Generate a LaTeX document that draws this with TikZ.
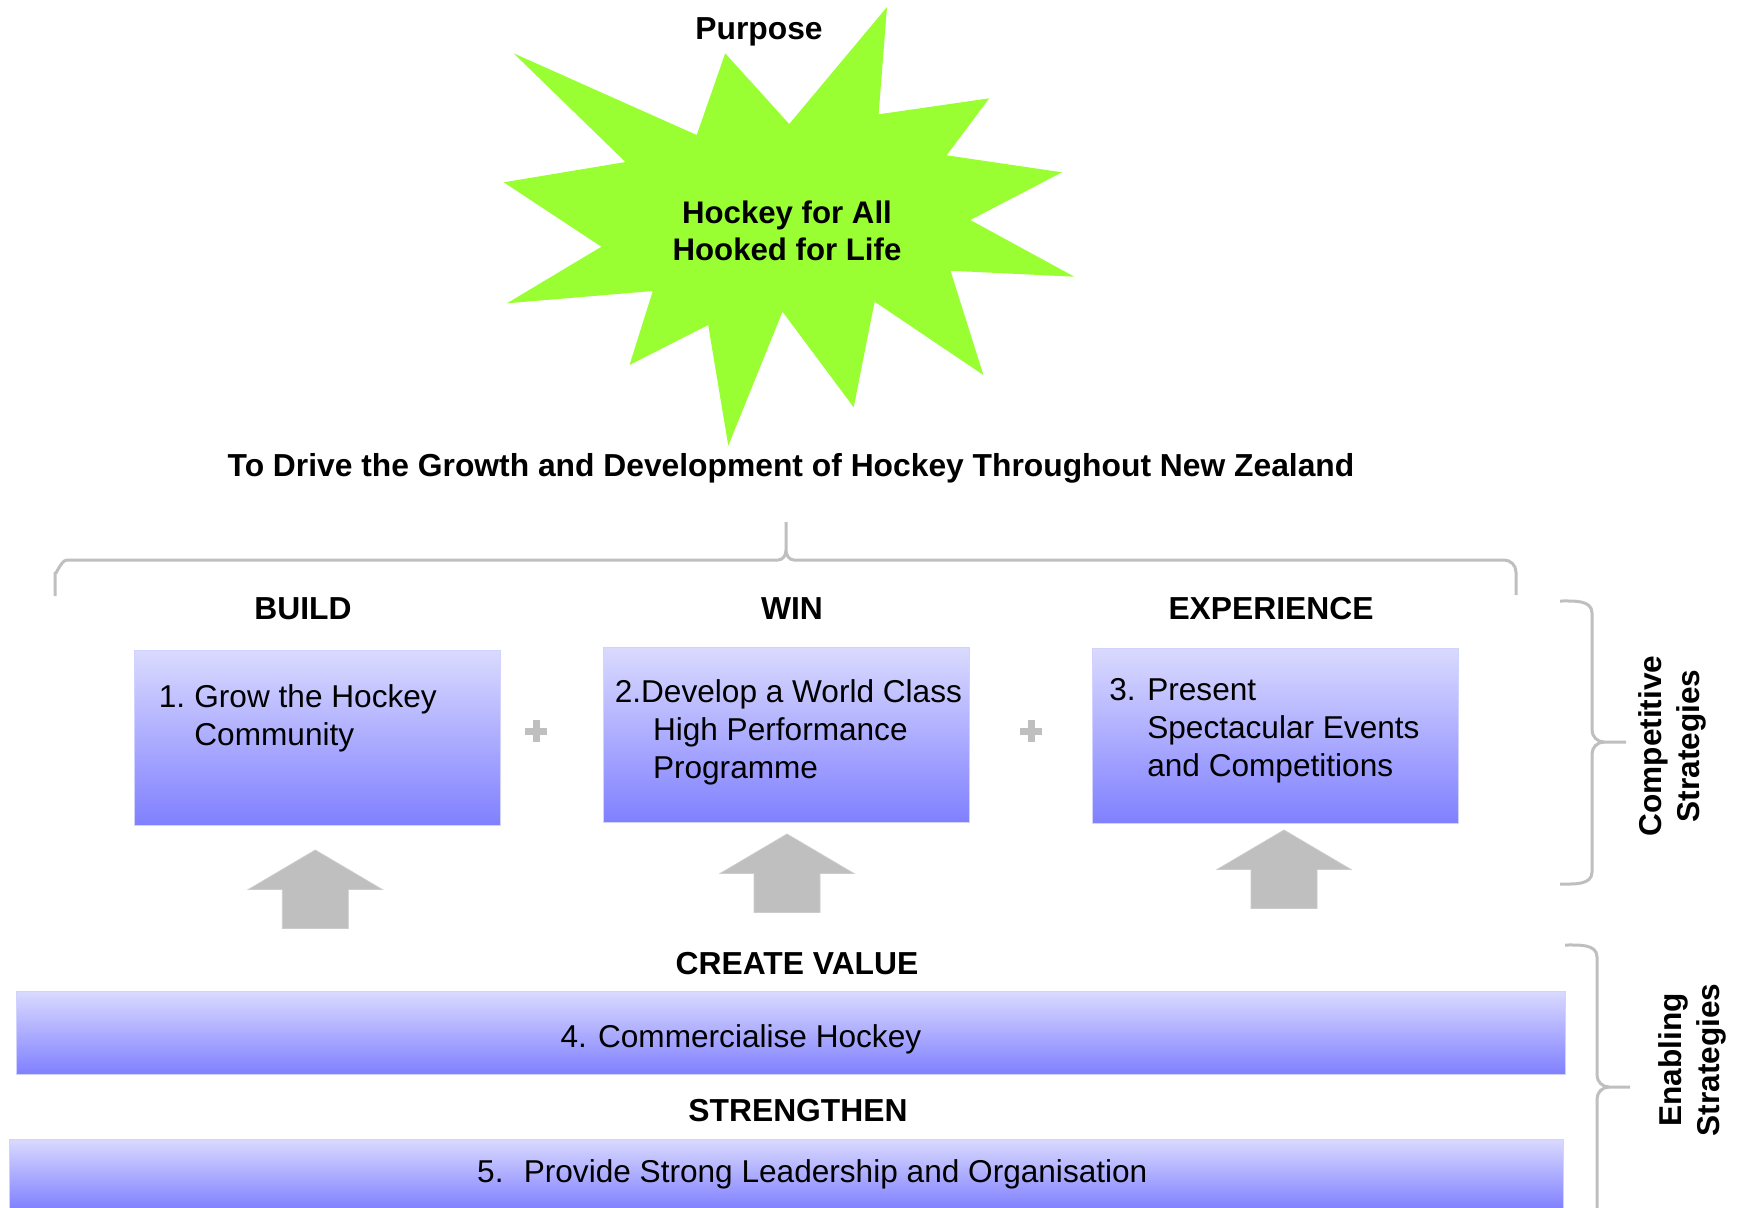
\documentclass[tikz,border=0pt]{standalone}
\usepackage{fontspec}
\setmainfont{Liberation Sans}
\definecolor{burst}{RGB}{153,255,51}
\definecolor{lineg}{RGB}{191,191,191}
\definecolor{boxtop}{RGB}{218,218,255}
\definecolor{boxbot}{RGB}{128,128,255}
\definecolor{boxedge}{RGB}{210,210,255}
\begin{document}
\begin{tikzpicture}[x=0.5pt,y=-0.5pt,
  every node/.style={inner sep=0pt, outer sep=0pt, font=\fontsize{15.8}{19}\selectfont},
  head/.style={font=\fontsize{15.9}{19}\selectfont\bfseries, anchor=base},
  label/.style={anchor=base west, align=left},
  stratbox/.style={rectangle, draw=boxedge, line width=0.5pt, top color=boxtop, bottom color=boxbot, minimum width=183pt, minimum height=87.5pt},
  stratbar/.style={rectangle, draw=boxedge, line width=0.5pt, top color=boxtop, bottom color=boxbot},
  bracket/.style={draw=lineg, line width=1.5pt},
  uparrow/.style={fill=lineg, draw=lineg!80!white, line width=0.4pt},
  plus/.style={fill=lineg},
  side/.style={font=\fontsize{15.8}{19}\selectfont\bfseries, rotate=90, align=center}]
\useasboundingbox (0,0) rectangle (1740,1207);

% purpose burst
\fill[burst] (887,7) -- (878.6,114.3) -- (989.3,98.3) -- (946.6,155.3) -- (1062,172.3)
  -- (970.3,220) -- (1074.3,276.7) -- (950.5,270.7) -- (983.4,375) -- (874.6,301.7)
  -- (853.7,407.3) -- (782.5,311.7) -- (728.3,445.7) -- (708.2,325) -- (629.5,365)
  -- (652.8,291) -- (506.9,303.3) -- (601.4,246.7) -- (503.7,182.3) -- (625.5,162)
  -- (513.6,53.3) -- (696.7,135) -- (725.2,53.3) -- (789.2,124) -- cycle;
\node[head] (purpose) at (759,39) {Purpose};
\node[font=\fontsize{15.6}{18.7}\selectfont\bfseries, align=center] (slogan) at (787,231) {Hockey for All\\Hooked for Life};
\node[head] (mission) at (791,476) {To Drive the Growth and Development of Hockey Throughout New Zealand};

% brace over the competitive strategies
\path[bracket] (55,596) -- (55,572) to[out=-90,in=180] (67,560) -- (778,560)
  to[out=0,in=-90] (786,550) -- (786,522) -- (786,550) to[out=-90,in=180] (794,560)
  -- (1504,560) to[out=0,in=90] (1516,572) -- (1516,595);

% competitive strategies
\node[head] (build) at (303,619) {BUILD};
\node[head] (win) at (792,619) {WIN};
\node[head] (exp) at (1271,619) {EXPERIENCE};

\node[stratbox] (b1) at (317,737.5) {};
\node[stratbox] (b2) at (786,735) {};
\node[stratbox] (b3) at (1275,735.5) {};

% the base anchor of a multi-line label sits on its last line
\node[label] (t1) at (158.8,745) {\makebox[17.8pt][l]{1.}Grow the Hockey\\\hspace*{17.8pt}Community};
\node[label] (t2) at (614.8,778.3) {2.Develop a World Class\\\hspace*{19.1pt}High Performance\\\hspace*{19.1pt}Programme};
\node[label] (t3) at (1109.3,776) {\makebox[19pt][l]{3.}Present\\\hspace*{19pt}Spectacular Events\\\hspace*{19pt}and Competitions};

% plus signs between the boxes
\foreach \cx/\nm in {536/p1,1031/p2}{
  \fill[plus] (\cx-11,731-3.5) rectangle (\cx+11,731+3.5);
  \fill[plus] (\cx-3.5,731-11) rectangle (\cx+3.5,731+11);
}

% block arrows from the enabling strategies
\foreach \cx/\ty in {315.3/850, 787/834, 1284/830}{
  \path[uparrow] (\cx,\ty) -- (\cx+67,\ty+39.5) -- (\cx+33,\ty+39.5) -- (\cx+33,\ty+78.5)
    -- (\cx-33,\ty+78.5) -- (\cx-33,\ty+39.5) -- (\cx-67,\ty+39.5) -- cycle;
}

% enabling strategies
\node[head] (create) at (797,974.5) {CREATE VALUE};
\node[stratbar, minimum width=774.5pt, minimum height=41.5pt] (b4) at (790.5,1032.5) {};
\node[label] (t4) at (560.5,1047) {\makebox[18.8pt][l]{4.}Commercialise Hockey};

\node[head] (strengthen) at (798,1121) {STRENGTHEN};
\node[stratbar, minimum width=777pt, minimum height=35pt] (b5) at (786,1174) {};
\node[label] (t5) at (477.2,1182) {\makebox[23.3pt][l]{5.}Provide Strong Leadership and Organisation};

% side brackets
\path[bracket] (1560,601) to[out=0,in=90] (1592,613) -- (1592,730)
  to[out=-90,in=180] (1604,742) -- (1626,742);
\path[bracket] (1604,742) to[out=180,in=90] (1592,754) -- (1592,872)
  to[out=-90,in=0] (1560,884);
\node[side] (compet) at (1672.5,746) {Competitive\\Strategies};

\path[bracket] (1565,945) to[out=0,in=90] (1597,957) -- (1597,1075)
  to[out=-90,in=180] (1609,1087) -- (1630,1087);
\path[bracket] (1609,1087) to[out=180,in=90] (1597,1099) -- (1597,1210);
\node[side] (enab) at (1692,1060) {Enabling\\Strategies};
\end{tikzpicture}
\end{document}
